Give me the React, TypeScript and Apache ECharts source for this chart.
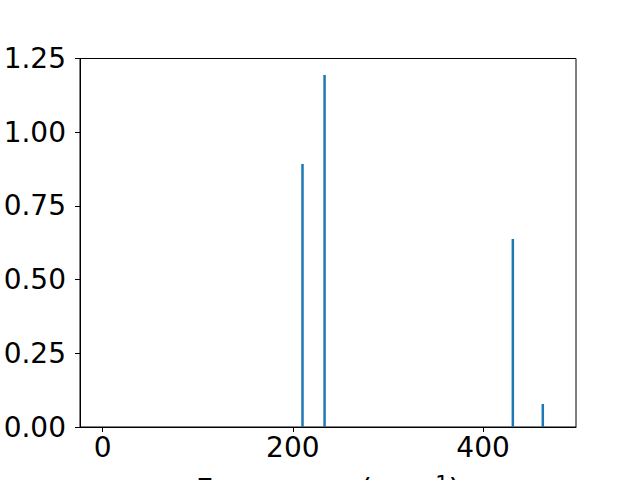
import React, { useEffect, useRef } from "react";
import * as echarts from "echarts";

const frequencies = [210.2, 233.4, 431.3, 462.8];
const intensities = [0.892, 1.194, 0.638, 0.078];
const xTicks = [0, 200, 400];
const yTicks = [0, 0.25, 0.5, 0.75, 1.0, 1.25];
const xLabelMain = "Frequency (cm";
const xLabelSup = "−1";
const xLabelEnd = ")";

export default function App() {
  const ref = useRef<HTMLDivElement>(null);
  useEffect(() => {
    if (!ref.current) return;
    const chart = echarts.init(ref.current, undefined, { renderer: "svg" });
    const font = "DejaVu Sans";
    chart.setOption({
      animation: false,
      backgroundColor: "#ffffff",
      grid: {
        left: 80,
        right: 64,
        top: 58.5,
        bottom: 53,
        show: true,
        borderColor: "#000000",
        borderWidth: 1,
        backgroundColor: "transparent",
        containLabel: false,
        outerBoundsMode: "none",
      },
      xAxis: {
        type: "value",
        min: -23.7,
        max: 497.7,
        name: `{a|${xLabelMain}}{s|${xLabelSup}}{a|${xLabelEnd}}`,
        nameLocation: "middle",
        nameGap: 46,
        nameTextStyle: {
          fontFamily: font,
          fontSize: 30,
          color: "#000",
          rich: {
            a: { fontFamily: font, fontSize: 30, lineHeight: 31, verticalAlign: "bottom", color: "#000" },
            s: { fontFamily: font, fontSize: 21, lineHeight: 21, verticalAlign: "top", color: "#000" },
          },
        },
        axisLine: { show: true, onZero: false, lineStyle: { color: "#000", width: 1 } },
        axisTick: { show: true, inside: false, length: 5, lineStyle: { color: "#000" }, customValues: xTicks },
        axisLabel: { fontFamily: font, fontSize: 28, color: "#000", margin: 6, customValues: xTicks, showMinLabel: true, showMaxLabel: true },
        splitLine: { show: false },
      },
      yAxis: {
        type: "value",
        min: 0,
        max: 1.25,
        interval: 0.25,
        axisLine: { show: true, onZero: false, lineStyle: { color: "#000", width: 1 } },
        axisTick: { show: true, inside: false, length: 5, lineStyle: { color: "#000" }, customValues: yTicks },
        axisLabel: {
          fontFamily: font,
          fontSize: 28,
          color: "#000",
          margin: 14,
          customValues: yTicks,
          formatter: (v: number) => v.toFixed(2),
        },
        splitLine: { show: false },
      },
      series: [
        {
          type: "bar",
          barWidth: 2.5,
          itemStyle: { color: "#1f77b4" },
          data: frequencies.map((f, i) => [f, intensities[i]]),
        },
      ],
    });
    return () => chart.dispose();
  }, []);
  return <div ref={ref} style={{ width: 640, height: 480, position: "absolute", left: 0, top: 0 }} />;
}
